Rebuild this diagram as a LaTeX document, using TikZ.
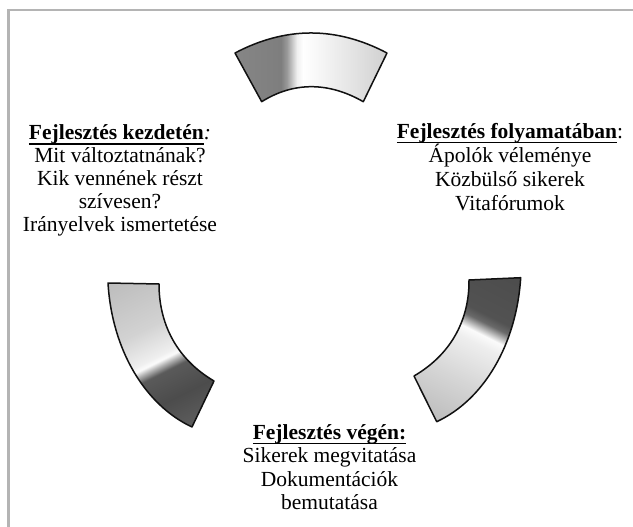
\documentclass[tikz,border=0pt]{standalone}
\usepackage{fontspec}
\setmainfont{Liberation Serif}
\definecolor{framegray}{HTML}{B4B4B4}
\definecolor{edge}{HTML}{111111}
\pgfdeclarehorizontalshading{segL}{100bp}{rgb(0bp)=(.737,.737,.737); rgb(28bp)=(.737,.737,.737); rgb(42.5bp)=(.824,.824,.824); rgb(50bp)=(.937,.937,.937); rgb(51.25bp)=(.988,.988,.988); rgb(52.5bp)=(.71,.71,.71); rgb(54.25bp)=(.353,.353,.353); rgb(61.25bp)=(.298,.298,.298); rgb(70bp)=(.369,.369,.369); rgb(100bp)=(.369,.369,.369)}
\pgfdeclarehorizontalshading{segR}{100bp}{rgb(0bp)=(.294,.294,.294); rgb(25bp)=(.294,.294,.294); rgb(40bp)=(.322,.322,.322); rgb(42bp)=(.416,.416,.416); rgb(43.75bp)=(.753,.753,.753); rgb(45bp)=(.984,.984,.984); rgb(47.5bp)=(.933,.933,.933); rgb(57.5bp)=(.839,.839,.839); rgb(70bp)=(.737,.737,.737); rgb(100bp)=(.737,.737,.737)}
\pgfdeclarehorizontalshading{segT}{100bp}{rgb(0bp)=(.525,.525,.525); rgb(31bp)=(.525,.525,.525); rgb(42.5bp)=(.494,.494,.494); rgb(44bp)=(.604,.604,.604); rgb(46.5bp)=(.941,.941,.941); rgb(48bp)=(1,1,1); rgb(51.25bp)=(.973,.973,.973); rgb(69bp)=(.816,.816,.816); rgb(100bp)=(.816,.816,.816)}
\newcommand{\myul}[1]{\setbox0=\hbox{#1}\rlap{\rule[-4.6pt]{\wd0}{1.3pt}}\box0}
\newcommand{\stk}[2]{\vtop{\baselineskip=#1\lineskiplimit=-100pt\halign{\hfil##\hfil\cr#2\crcr}}}
\tikzset{
  outline/.style={draw=edge, line width=1.5pt, line join=round},
  txt/.style={inner sep=0pt, anchor=base, font=\fontsize{21.5}{23}\selectfont, text=black}
}
\begin{document}
\begin{tikzpicture}[x=1pt,y=-1pt]
\useasboundingbox (0,0) rectangle (633,527);
\fill[white] (0,0) rectangle (633,527);
\draw[framegray, line width=2.4pt] (633,10) -- (8.5,10) -- (8.5,527);
% top segment
\begin{scope}
\clip (235,53) .. controls (285.7,26.3) and (336.3,26.3) .. (387,53) -- (363.3,101.7) .. controls (328.4,81.7) and (293.6,81.7) .. (261.7,101.7) -- cycle;
\shade[shading=segT, shading angle=0] (211,-33) rectangle (411,167);
\end{scope}
\draw[outline] (235,53) .. controls (285.7,26.3) and (336.3,26.3) .. (387,53) -- (363.3,101.7) .. controls (328.4,81.7) and (293.6,81.7) .. (261.7,101.7) -- cycle;
% left segment
\begin{scope}
\clip (108,283) -- (159,284) .. controls (159,322) and (175,358) .. (214,381) -- (192,427) .. controls (145,405) and (112,350) .. (108,283) -- cycle;
\shade[shading=segL, shading angle=-63.43] (60,255) rectangle (260,455);
\end{scope}
\draw[outline] (108,283) -- (159,284) .. controls (159,322) and (175,358) .. (214,381) -- (192,427) .. controls (145,405) and (112,350) .. (108,283) -- cycle;
% right segment
\begin{scope}
\clip (520.7,277.7) -- (469,280) .. controls (469.4,317) and (453.4,353) .. (414,376) -- (436.7,421.7) .. controls (483.4,400) and (516.4,345) .. (520.7,277.7) -- cycle;
\shade[shading=segR, shading angle=-116.57] (368,250) rectangle (568,450);
\end{scope}
\draw[outline] (520.7,277.7) -- (469,280) .. controls (469.4,317) and (453.4,353) .. (414,376) -- (436.7,421.7) .. controls (483.4,400) and (516.4,345) .. (520.7,277.7) -- cycle;
% texts
\node[txt] (kezdet) at (120,140) {\stk{23pt}{\myul{\textbf{Fejlesztés kezdetén}}\textit{:}\cr Mit változtatnának?\cr Kik vennének részt\cr szívesen?\cr Irányelvek ismertetése}};
\node[txt] (folyamat) at (510,138.5) {\stk{24pt}{\myul{\textbf{Fejlesztés folyamatában}}:\cr Ápolók véleménye\cr Közbülső sikerek\cr Vitafórumok}};
\node[txt] (vege) at (329.5,439.3) {\stk{23.5pt}{\myul{\textbf{Fejlesztés végén:}}\cr Sikerek megvitatása\cr Dokumentációk\cr bemutatása}};
\end{tikzpicture}
\end{document}
